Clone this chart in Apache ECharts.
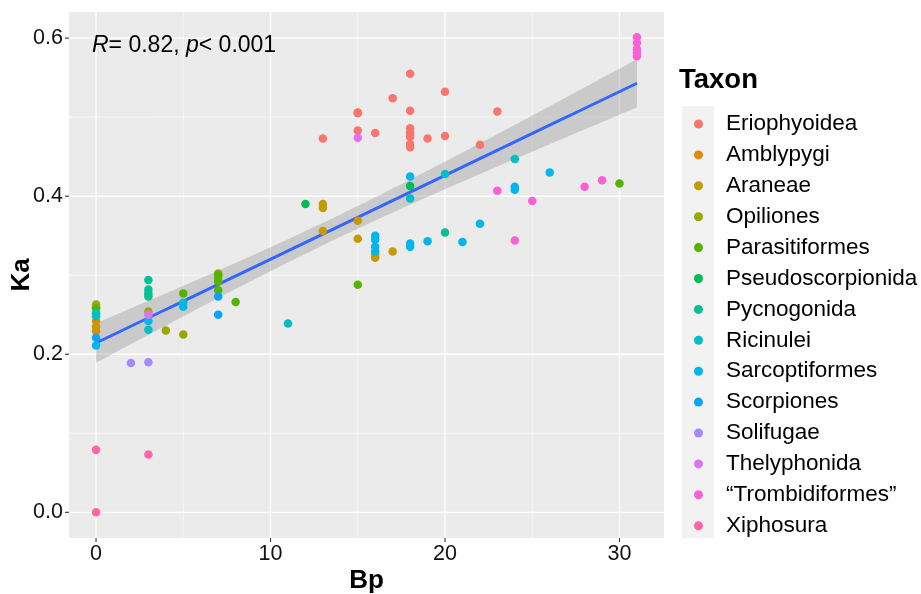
<!DOCTYPE html>
<html><head><meta charset="utf-8">
<script src="https://cdn.jsdelivr.net/npm/echarts@6/dist/echarts.min.js"></script>
<style>html,body{margin:0;padding:0;background:#fff}#c{width:921px;height:594px}</style>
</head><body><div id="c"></div>
<script>
// ---- data ----
const taxa = ['Eriophyoidea','Amblypygi','Araneae','Opiliones','Parasitiformes','Pseudoscorpionida','Pycnogonida','Ricinulei','Sarcoptiformes','Scorpiones','Solifugae','Thelyphonida','\u201CTrombidiformes\u201D','Xiphosura'];
const colors = ['#F8766D','#E38900','#C49A00','#99A800','#53B400','#00BC56','#00C094','#00BFC4','#00B6EB','#06A4FF','#A58AFF','#DF70F8','#FB61D7','#FF66A8'];
const eriophyoidea = [[13,0.473],[15,0.506],[15,0.505],[15,0.483],[16,0.480],[17,0.524],[18,0.555],[18,0.508],[18,0.486],[18,0.481],[18,0.477],[18,0.475],[18,0.466],[18,0.462],[19,0.473],[20,0.532],[20,0.476],[22,0.465],[23,0.507]];
const amblypygi = [[0,0.242],[0,0.229]];
const araneae = [[0,0.259],[0,0.235],[13,0.390],[13,0.385],[13,0.356],[15,0.369],[15,0.346],[16,0.326],[16,0.322],[17,0.330]];
const opiliones = [[0,0.263],[3,0.254],[4,0.230],[5,0.225],[7,0.302],[7,0.296]];
const parasitiformes = [[0,0.258],[5,0.277],[7,0.300],[7,0.292],[7,0.281],[8,0.266],[15,0.288],[30,0.416]];
const pseudoscorpionida = [[12,0.390],[18,0.413]];
const pycnogonida = [[3,0.294],[3,0.282],[3,0.277],[3,0.273],[20,0.354]];
const ricinulei = [[0,0.252],[0,0.248],[3,0.231],[5,0.265],[11,0.239],[18,0.397],[20,0.428],[24,0.447]];
const sarcoptiformes = [[0,0.211],[3,0.242],[5,0.260],[16,0.350],[16,0.345],[16,0.336],[16,0.330],[18,0.425],[18,0.340],[18,0.336],[19,0.343],[21,0.342],[22,0.365],[24,0.412],[24,0.408],[26,0.430]];
const scorpiones = [[0,0.221],[7,0.273],[7,0.250]];
const solifugae = [[2,0.189],[3,0.190]];
const thelyphonida = [[3,0.250],[15,0.474]];
const trombidiformes = [[23,0.407],[24,0.344],[25,0.394],[28,0.412],[29,0.420],[31,0.601],[31,0.594],[31,0.586],[31,0.581],[31,0.577]];
const xiphosura = [[0,0.079],[0,0.0],[3,0.073]];
const seriesData = [eriophyoidea,amblypygi,araneae,opiliones,parasitiformes,pseudoscorpionida,pycnogonida,ricinulei,sarcoptiformes,scorpiones,solifugae,thelyphonida,trombidiformes,xiphosura];
const xTicks = [0,10,20,30];
const xMinor = [5,15,25];
const yTicks = [0,0.2,0.4,0.6];
const yMinor = [0.1,0.3,0.5];
const statLabel = {r:'0.82', p:'0.001'};

// ---- linear model (geom_smooth method=lm) ----
const all = [].concat(...seriesData);
const n = all.length;
const mx = all.reduce((s,d)=>s+d[0],0)/n, my = all.reduce((s,d)=>s+d[1],0)/n;
let sxx=0, sxy=0; all.forEach(d=>{sxx+=(d[0]-mx)**2; sxy+=(d[0]-mx)*(d[1]-my);});
const b = sxy/sxx, a = my - b*mx;
let sse=0; all.forEach(d=>{sse+=(d[1]-a-b*d[0])**2;});
const sigma = Math.sqrt(sse/(n-2)), tq = 1.99;
const xs = []; for (let i=0;i<=80;i++) xs.push(31*i/80);
const fit = xs.map(x=>[x, a+b*x]);
const lo = xs.map(x=>[x, a+b*x - tq*sigma*Math.sqrt(1/n+(x-mx)**2/sxx)]);
const hi = xs.map(x=>[x, a+b*x + tq*sigma*Math.sqrt(1/n+(x-mx)**2/sxx)]);

const chart = echarts.init(document.getElementById('c'));
const FONT = '"Liberation Sans", Arial, sans-serif';
// grid line items: [orientation(0=vertical,1=horizontal), value, width, major(1)/minor(0)]
const gridItems = [
  ...xMinor.map(v=>[0,v,0.6,0]), ...yMinor.map(v=>[1,v,0.6,0]),
  ...xTicks.map(v=>[0,v,1.3,1]), ...yTicks.map(v=>[1,v,1.3,1])
];
const series = [
  {type:'custom', z:1, silent:true, clip:false, data:gridItems, renderItem:(params, api)=>{
     const cs = params.coordSys;
     const o = api.value(0), v = api.value(1), w = api.value(2), major = api.value(3);
     const kids = [];
     if (o === 0) {
       const p = api.coord([v, 0]);
       kids.push({type:'line', shape:{x1:p[0], y1:cs.y, x2:p[0], y2:cs.y+cs.height}, style:{stroke:'#fff', lineWidth:w}});
       if (major) kids.push({type:'line', shape:{x1:p[0], y1:cs.y+cs.height, x2:p[0], y2:cs.y+cs.height+4}, style:{stroke:'#333', lineWidth:1.1}});
     } else {
       const p = api.coord([0, v]);
       kids.push({type:'line', shape:{x1:cs.x, y1:p[1], x2:cs.x+cs.width, y2:p[1]}, style:{stroke:'#fff', lineWidth:w}});
       if (major) kids.push({type:'line', shape:{x1:cs.x-4, y1:p[1], x2:cs.x, y2:p[1]}, style:{stroke:'#333', lineWidth:1.1}});
     }
     return {type:'group', children:kids};
  }},
  {type:'custom', z:2, silent:true, data:[0], renderItem:(params, api)=>{
     const pts = lo.map(d=>api.coord(d)).concat(hi.slice().reverse().map(d=>api.coord(d)));
     return {type:'polygon', shape:{points:pts}, style:{fill:'rgba(153,153,153,0.4)'}};
  }},
  {type:'line', data:fit, showSymbol:false, z:3, silent:true, lineStyle:{color:'#3366FF', width:3}}
];
taxa.forEach((t,i)=>series.push({name:t, type:'scatter', data:seriesData[i], symbolSize:8.5, z:4,
   itemStyle:{color:colors[i], opacity:1}}));

chart.setOption({
  animation:false,
  backgroundColor:'#fff',
  color: colors,
  grid:{left:69, right:257, top:12, bottom:56, show:true, backgroundColor:'#EBEBEB', borderWidth:0,
    containLabel:false, outerBoundsMode:'none'},
  xAxis:{type:'value', min:-1.55, max:32.55, name:'Bp', nameLocation:'middle', nameGap:30, nameMoveOverlap:false,
    nameTextStyle:{fontFamily:FONT, fontSize:26, fontWeight:'bold', color:'#000'},
    axisLine:{show:false}, splitLine:{show:false}, axisTick:{show:false},
    axisLabel:{customValues:xTicks, fontFamily:FONT, fontSize:21.5, color:'#111', margin:5}},
  yAxis:{type:'value', min:-0.0325, max:0.633, name:'Ka', nameLocation:'middle', nameGap:34, nameMoveOverlap:false,
    nameTextStyle:{fontFamily:FONT, fontSize:26, fontWeight:'bold', color:'#000'},
    axisLine:{show:false}, splitLine:{show:false}, axisTick:{show:false},
    axisLabel:{customValues:yTicks, fontFamily:FONT, fontSize:21.5, color:'#111', margin:6,
      formatter:v=>v.toFixed(1)}},
  legend:{orient:'vertical', left:689, top:106, icon:'circle', itemWidth:9, itemHeight:9, itemGap:4.9,
    data:taxa, selectedMode:false,
    textStyle:{fontFamily:FONT, fontSize:22.5, color:'#000', padding:[0,0,0,18], height:26, lineHeight:26}},
  graphic:[
    {type:'rect', left:682, top:106, shape:{width:32, height:432}, style:{fill:'#F2F2F2'}, z:-1},
    {type:'text', left:679, top:66, z:100, style:{text:'Taxon', fontFamily:FONT, fontSize:27.5, fontWeight:'bold', fill:'#000'}},
    {type:'text', left:92, top:34, z:100, style:{
      text:'{i|R}{n|= '+statLabel.r+', }{i|p}{n|< '+statLabel.p+'}',
      rich:{i:{fontFamily:FONT, fontSize:23, fontStyle:'italic', fill:'#000'},
            n:{fontFamily:FONT, fontSize:23, fill:'#000'}}}}
  ],
  series: series
});
</script></body></html>
